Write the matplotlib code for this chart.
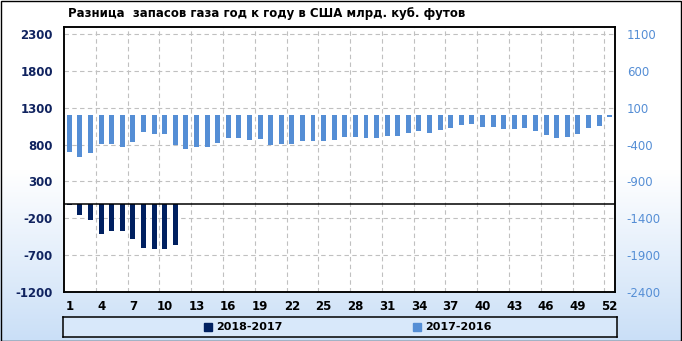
import numpy as np
import matplotlib
matplotlib.use("Agg")
import matplotlib.pyplot as plt
from matplotlib.patches import Rectangle
from matplotlib.colors import LinearSegmentedColormap

plt.rcParams["axes.unicode_minus"] = False

# data (bcf)
weeks = np.arange(1, 53)
diff_2018_2017 = [-25, -152, -220, -418, -368, -368, -477, -599, -612, -612, -558]
diff_2017_2016 = [-496, -564, -509, -388, -388, -428, -365, -225, -252, -252,
                  -401, -455, -428, -428, -374, -306, -306, -333, -320, -401,
                  -388, -388, -347, -347, -347, -333, -302, -302, -316, -316,
                  -289, -289, -248, -221, -248, -207, -180, -140, -126, -167,
                  -167, -194, -194, -180, -221, -275, -316, -302, -262, -180,
                  -153, -31]
left_ticks = [-1200, -700, -200, 300, 800, 1300, 1800, 2300]
right_ticks = [-2400, -1900, -1400, -900, -400, 100, 600, 1100]
x_ticks = list(range(1, 53, 3))
labels = ["2018-2017", "2017-2016"]
title = "Разница  запасов газа год к году в США млрд. куб. футов"

dark = "#002060"
light = "#558ed5"
navy_txt = "#10235f"

W, H = 682, 341
fig = plt.figure(figsize=(W / 100, H / 100), dpi=100)

# background gradient white -> light blue
bg = fig.add_axes([0, 0, 1, 1], zorder=-10)
cmap = LinearSegmentedColormap.from_list(
    "bg", [(0, "#ffffff"), (0.5, "#ffffff"), (1, "#cadff7")])
grad = np.linspace(0, 1, 256).reshape(-1, 1)
bg.imshow(grad, aspect="auto", cmap=cmap, extent=[0, 1, 0, 1], origin="upper")
bg.set_axis_off()
fig.add_artist(Rectangle((0.5 / W, 0.5 / H), 1 - 1.5 / W, 1 - 1.5 / H,
                         transform=fig.transFigure, fill=False, edgecolor="black", lw=1.0))

def px(l, t, r, b):
    return [l / W, 1 - b / H, (r - l) / W, (b - t) / H]

ax = fig.add_axes(px(64, 27, 615, 292))
ax.set_facecolor("white")
ax2 = ax.twinx()

ax.bar(weeks[:len(diff_2018_2017)], diff_2018_2017, width=0.47, color=dark, zorder=3)
ax2.bar(weeks, diff_2017_2016, width=0.47, color=light, zorder=3)
ax.axhline(0, color="black", lw=1.1, zorder=4)

ax.set_xlim(0.5, 52.5)
ax.set_ylim(-1200, 2395)
ax2.set_ylim(-2400, 1195)
ax.set_yticks(left_ticks)
ax2.set_yticks(right_ticks)
ax.set_xticks(x_ticks)
ax.set_xticks(np.arange(3.5, 52, 3), minor=True)

ax.grid(axis="y", which="major", color="#c0c0c0", ls=(0, (4, 3)), lw=0.8, zorder=0)
ax.grid(axis="x", which="minor", color="#c0c0c0", ls=(0, (4, 3)), lw=0.8, zorder=0)
ax.grid(axis="x", which="major", visible=False)

ax.tick_params(axis="y", length=0, pad=8, labelsize=8.5, labelcolor=navy_txt)
ax.tick_params(axis="x", which="both", length=0, pad=6, labelsize=8.5)
ax2.tick_params(axis="y", length=0, pad=8.5, labelsize=8.5, labelcolor=light)
for t in ax.get_yticklabels() + ax.get_xticklabels():
    t.set_fontweight("bold")

for a in (ax, ax2):
    for s in a.spines.values():
        s.set_color("black")
        s.set_linewidth(1.1)

fig.text(68 / W, 1 - 13 / H, title, fontsize=8.5, fontweight="bold", va="center", ha="left")

# legend box
lax = fig.add_axes(px(63, 317, 617, 337))
lax.set_xlim(63, 617)
lax.set_ylim(337, 317)
lax.set_facecolor("#d8e8fa")
lax.set_xticks([])
lax.set_yticks([])
for s in lax.spines.values():
    s.set_color("black")
    s.set_linewidth(1.1)
for x0, col, lab in [(204, dark, labels[0]), (413, light, labels[1])]:
    lax.add_patch(Rectangle((x0, 323), 8, 8, color=col))
    lax.text(x0 + 12, 327.5, lab, fontsize=8, fontweight="bold", va="center", ha="left")

fig.savefig("out.png", dpi=100)
